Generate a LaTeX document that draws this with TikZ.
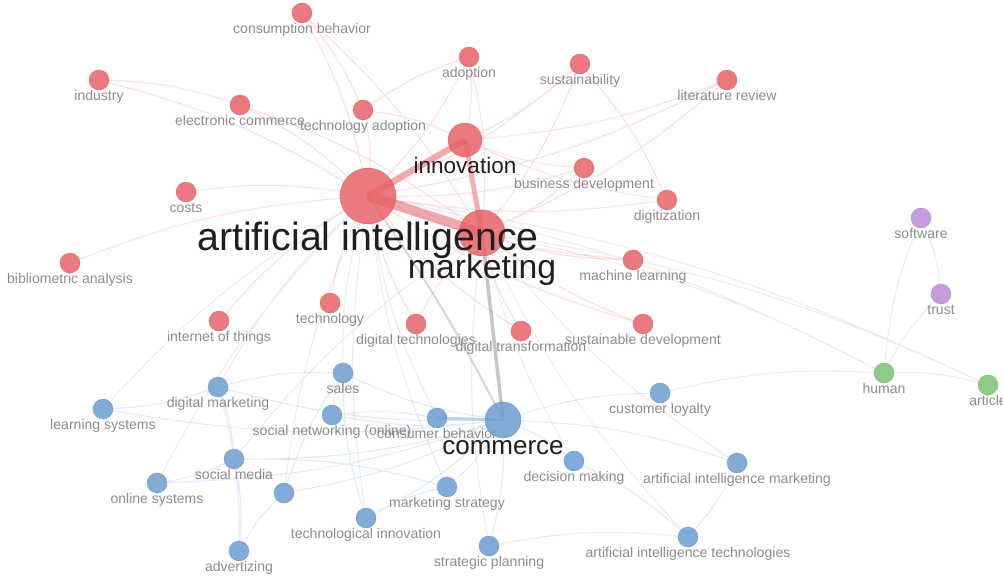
\documentclass[tikz,border=0pt]{standalone}
\usepackage{fontspec}
\setmainfont{Liberation Sans}
\usetikzlibrary{backgrounds}
\definecolor{nodered}{RGB}{232,98,102}
\definecolor{nodeblue}{RGB}{108,158,208}
\definecolor{nodepurple}{RGB}{188,140,214}
\definecolor{nodegreen}{RGB}{122,196,112}
\definecolor{labelgrey}{RGB}{140,140,140}
\definecolor{edgered}{RGB}{232,110,115}
\definecolor{edgeblue}{RGB}{120,165,212}
\begin{document}
\begin{tikzpicture}
    [
    x=0.025cm, y=-0.025cm,
    kw/.style={circle,inner sep=0pt,minimum size=5mm,line width=.4pt,fill opacity=.85,draw opacity=.5},
    rednode/.style={kw,fill=nodered,draw=nodered!80!black},
    bluenode/.style={kw,fill=nodeblue,draw=nodeblue!80!black},
    purplenode/.style={kw,fill=nodepurple,draw=nodepurple!80!black},
    greennode/.style={kw,fill=nodegreen,draw=nodegreen!80!black},
    every label/.style={font=\fontsize{10}{12}\selectfont,text=labelgrey,inner sep=0pt,text height=7.1pt,text depth=2pt},
    label distance=0pt,
    biglbl/.style={text=black!88,text depth=6pt},
    redge/.style={draw=edgered,draw opacity=.22,line width=.8pt,bend left=8},
    bedge/.style={draw=edgeblue,draw opacity=.22,line width=.8pt,bend left=8},
    gedge/.style={draw=gray,draw opacity=.14,line width=.8pt,bend left=8}
    ]
    \useasboundingbox (0,0) rectangle (1003,579);
    % red cluster
    \node (cb) at (302,13) [rednode, label=below:consumption behavior] {};
    \node (ind) at (99,80) [rednode, label=below:industry] {};
    \node (ecom) at (240,105) [rednode, label=below:electronic commerce] {};
    \node (tadopt) at (363,110) [rednode, label=below:technology adoption] {};
    \node (adopt) at (469,57) [rednode, label=below:adoption] {};
    \node (sust) at (580,64) [rednode, label=below:sustainability] {};
    \node (litrev) at (727,80) [rednode, label=below:literature review] {};
    \node (costs) at (186,192) [rednode, label=below:costs] {};
    \node (busdev) at (584,168) [rednode, label=below:business development] {};
    \node (digi) at (667,200) [rednode, label=below:digitization] {};
    \node (biblio) at (70,263) [rednode, label=below:bibliometric analysis] {};
    \node (ml) at (633,260) [rednode, label=below:machine learning] {};
    \node (tech) at (330,303) [rednode, label=below:technology] {};
    \node (iot) at (219,321) [rednode, label=below:internet of things] {};
    \node (digtech) at (416,324) [rednode, label=below:digital technologies] {};
    \node (digtrans) at (521,331) [rednode, label=below:digital transformation] {};
    \node (susdev) at (643,324) [rednode, label=below:sustainable development] {};
    % blue cluster
    \node (sales) at (343,373) [bluenode, label=below:sales] {};
    \node (digmkt) at (218,387) [bluenode, label=below:digital marketing] {};
    \node (learn) at (103,409) [bluenode, label=below:learning systems] {};
    \node (socnet) at (332,415) [bluenode, label={below:social networking (online)}] {};
    \node (consb) at (437,418) [bluenode, label=below:consumer behavior] {};
    \node (custloy) at (660,393) [bluenode, label=below:customer loyalty] {};
    \node (socmed) at (234,459) [bluenode, label=below:social media] {};
    \node (online) at (157,483) [bluenode, label=below:online systems] {};
    \node (unk) at (284,493) [bluenode] {};
    \node (mstrat) at (447,487) [bluenode, label=below:marketing strategy] {};
    \node (decm) at (574,461) [bluenode, label=below:decision making] {};
    \node (aimkt) at (737,463) [bluenode, label=below:artificial intelligence marketing] {};
    \node (techinno) at (366,518) [bluenode, label=below:technological innovation] {};
    \node (advert) at (239,551) [bluenode, label=below:advertizing] {};
    \node (strplan) at (489,546) [bluenode, label=below:strategic planning] {};
    \node (aitech) at (688,537) [bluenode, label=below:artificial intelligence technologies] {};
    % purple and green
    \node (soft) at (921,218) [purplenode, label=below:software] {};
    \node (trust) at (941,294) [purplenode, label=below:trust] {};
    \node (human) at (884,373) [greennode, label=below:human] {};
    \node (article) at (988,385) [greennode, label=below:article] {};
    % main keywords
    \node (comm) at (503,420) [bluenode, minimum size=9mm, label={[biglbl,font=\fontsize{18.5}{20}\selectfont,text height=11.3pt]below:commerce}] {};
    \node (inno) at (465,140) [rednode, minimum size=8.5mm, label={[biglbl,font=\fontsize{16}{18}\selectfont,text height=11.3pt]below:innovation}] {};
    \node (mkt) at (482,233) [rednode, minimum size=11.5mm, label={[biglbl,font=\fontsize{24}{26}\selectfont,text height=15.6pt]below:marketing}] {};
    \node (ai) at (368,196) [rednode, minimum size=14mm, label={[biglbl,font=\fontsize{28}{30}\selectfont,text height=18.4pt]below:artificial intelligence}] {};

    \begin{scope}[on background layer]
    \draw [redge] (cb) to (tadopt) (cb) to (mkt) (cb) to (ai)
      (ind) to (ecom) (ind) to (ai) (ecom) to (ai) (ecom) to (mkt)
      (tadopt) to (ai) (tadopt) to (inno) (tadopt) to (adopt)
      (adopt) to (inno) (adopt) to (ai) (adopt) to (mkt)
      (sust) to (inno) (sust) to (ai) (sust) to (digi) (sust) to (mkt)
      (litrev) to (inno) (litrev) to (ai) (litrev) to (mkt)
      (costs) to (ai) (busdev) to (inno) (busdev) to (mkt) (busdev) to (ai)
      (digi) to (ai) (digi) to (inno) (biblio) to (ai)
      (ml) to (ai) (ml) to (mkt) (tech) to (ai) (iot) to (ai)
      (digtech) to (ai) (digtech) to (mkt) (digtrans) to (mkt) (digtrans) to (ai)
      (susdev) to (mkt) (susdev) to (ai);
    \draw [redge, draw opacity=.6, line width=7pt, bend left=0] (ai.center) to (mkt.center);
    \draw [redge, draw opacity=.6, line width=4.5pt, bend left=0] (ai.center) to (inno.center);
    \draw [redge, draw opacity=.55, line width=3.5pt, bend left=0] (inno.center) to (mkt.center);
    \draw [bedge] (comm) to (sales) (comm) to (digmkt) (comm) to (socnet)
      (comm) to (custloy) (comm) to (decm) (comm) to (mstrat) (comm) to (strplan)
      (comm) to (aimkt) (comm) to (socmed) (comm) to (techinno) (comm) to (unk)
      (comm) to (learn) (comm) to (online)
      (digmkt) to (sales) (digmkt) to (learn) (digmkt) to (socmed) (digmkt) to (advert)
      (socmed) to (online) (socmed) to (advert) (socmed) to (mstrat)
      (socnet) to (sales) (socnet) to (consb)
      (strplan) to (aitech) (aimkt) to (aitech) (decm) to (aitech)
      (techinno) to (sales) (techinno) to (mstrat) (advert) to (unk) (unk) to (sales);
    \draw [bedge, draw opacity=.5, line width=2pt, bend left=0] (consb.center) to (comm.center);
    \draw [gedge, draw opacity=.45, line width=2.5pt, bend left=0] (mkt.center) to (comm.center);
    \draw [gedge, draw opacity=.3, line width=1.5pt, bend left=4] (ai.center) to (comm.center);
    \draw [gedge] (ai) to (human) (mkt) to (human) (mkt) to (article) (ai) to (article)
      (custloy) to (human) (human) to (soft) (human) to (trust) (soft) to (trust)
      (human) to (article)
      (learn) to (ai) (online) to (ai) (unk) to (ai) (techinno) to (ai) (sales) to (ai)
      (digmkt) to (ai) (socmed) to (mkt) (strplan) to (mkt) (mstrat) to (ai)
      (aimkt) to (mkt) (aitech) to (mkt) (decm) to (mkt) (consb) to (ai);
    \end{scope}
  \end{tikzpicture}
\end{document}
